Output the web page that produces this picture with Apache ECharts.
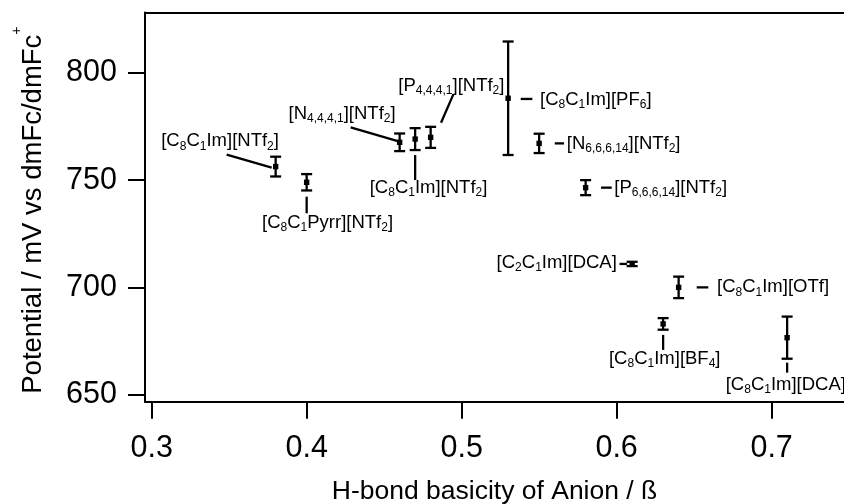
<!DOCTYPE html>
<html><head><meta charset="utf-8">
<script src="https://cdn.jsdelivr.net/npm/echarts@6/dist/echarts.min.js"></script>
<style>html,body{margin:0;padding:0;background:#fff}#c{width:844px;height:504px}</style>
</head><body><div id="c"></div>
<script>
// ---- data ----
const beta = [0.38, 0.40, 0.46, 0.47, 0.48, 0.53, 0.55, 0.58, 0.61, 0.64, 0.63, 0.71];
const potential = [756.3, 749.0, 767.6, 769.1, 769.9, 788.1, 767.1, 746.5, 711.0, 700.1, 683.1, 676.7];
const errorBar = [4.6, 3.8, 4.1, 5.1, 4.9, 26.4, 4.5, 3.5, 1.0, 5.0, 2.7, 9.8];
const names = [
  '[C_{8}C_{1}Im][NTf_{2}]',
  '[C_{8}C_{1}Pyrr][NTf_{2}]',
  '[N_{4,4,4,1}][NTf_{2}]',
  '[C_{8}C_{1}Im][NTf_{2}]',
  '[P_{4,4,4,1}][NTf_{2}]',
  '[C_{8}C_{1}Im][PF_{6}]',
  '[N_{6,6,6,14}][NTf_{2}]',
  '[P_{6,6,6,14}][NTf_{2}]',
  '[C_{2}C_{1}Im][DCA]',
  '[C_{8}C_{1}Im][OTf]',
  '[C_{8}C_{1}Im][BF_{4}]',
  '[C_{8}C_{1}Im][DCA]'
];
const xTicks = [0.3, 0.4, 0.5, 0.6, 0.7];
const yTicks = [650, 700, 750, 800];
const xTitle = 'H-bond basicity of Anion / ß';
const yTitle = 'Potential / mV vs dmFc/dmFc';

// ---- annotation layout: pixel offsets from each point ----
const annot = [
  {line: [-49, -12, -4, 1],   text: [-55.6, -25.4], align: 'center'},
  {line: [0, 14.4, 0, 31],    text: [20.9, 40.5],   align: 'center'},
  {line: [-49, -15, -1, -1],  text: [-57.6, -28.8], align: 'center'},
  {line: [0, 16, 0, 41],      text: [13.4, 48.8],   align: 'center'},
  {line: [22.7, -43, 10.4, -14.6], text: [20.7, -51.8], align: 'center'},
  {line: [12.6, 0.7, 24.2, 0.7], text: [31.9, 1.8],  align: 'left'},
  {line: [15.6, 0, 24.9, 0],  text: [27.6, 0.5],    align: 'left'},
  {line: [15.4, 0, 26.1, 0],  text: [28.7, 0],      align: 'left'},
  {line: [-12.6, 0, -5, 0],   text: [-15.3, -1],    align: 'right'},
  {line: [18.1, 0, 29.7, 0],  text: [38.4, 0],      align: 'left'},
  {line: [0, 11, 0, 26],      text: [1.6, 35.2],    align: 'center'},
  {line: [0, 25, 0, 35],      text: [-61.4, 47],    align: 'left'}
];

const FONT = '"Liberation Sans", Arial, Helvetica, sans-serif';
const INK = '#000';

function toRich(s) {
  const parts = s.split(/_\{([^}]*)\}/);
  let out = '';
  parts.forEach((p, k) => {
    if (!p) return;
    out += (k % 2 ? '{s|' : '{n|') + p + '}';
  });
  return out;
}
const annRich = {
  n: {fontSize: 18.5, lineHeight: 22, fontFamily: FONT, fill: INK},
  s: {fontSize: 12, lineHeight: 12, fontFamily: FONT, fill: INK, verticalAlign: 'bottom'}
};

const chart = echarts.init(document.getElementById('c'), null, {renderer: 'canvas'});
const xMin = 0.2957, xMax = 0.7467;
const yMin = 646.9, yMax = 828.0;

chart.setOption({
  animation: false,
  backgroundColor: '#fff',
  grid: {left: 145, top: 12.5, right: 0, bottom: 102.3, containLabel: false, outerBoundsMode: 'none'},
  xAxis: [{
    type: 'value', min: xMin, max: xMax, position: 'bottom',
    axisLine: {show: true, lineStyle: {color: INK, width: 2}},
    axisTick: {show: true, length: 17, customValues: xTicks, lineStyle: {color: INK, width: 2}},
    axisLabel: {customValues: xTicks, margin: 32, fontSize: 30.5, lineHeight: 30, color: INK, fontFamily: FONT},
    splitLine: {show: false},
    name: xTitle, nameLocation: 'middle', nameGap: 77,
    nameTextStyle: {fontSize: 26.5, lineHeight: 25, color: INK, fontFamily: FONT}
  }, {
    type: 'value', min: xMin, max: xMax, position: 'top',
    axisLine: {show: true, lineStyle: {color: INK, width: 2}},
    axisTick: {show: false}, axisLabel: {show: false}, splitLine: {show: false}
  }],
  yAxis: [{
    type: 'value', min: yMin, max: yMax,
    axisLine: {show: true, lineStyle: {color: INK, width: 2}},
    axisTick: {show: true, length: 17, customValues: yTicks, lineStyle: {color: INK, width: 2}},
    axisLabel: {customValues: yTicks, margin: 28, fontSize: 30.5, color: INK, fontFamily: FONT},
    splitLine: {show: false},
    name: '{m|' + yTitle + '}{p|+}', nameLocation: 'middle', nameGap: 89,
    nameTextStyle: {
      color: INK, fontFamily: FONT, padding: [0, 6, 0, 0],
      rich: {
        m: {fontSize: 27.5, lineHeight: 46, fontFamily: FONT, color: INK},
        p: {fontSize: 14, lineHeight: 14, fontFamily: FONT, color: INK, verticalAlign: 'top'}
      }
    }
  }],
  series: [{
    type: 'custom',
    clip: false,
    encode: {x: 0, y: 1},
    data: beta.map((b, i) => [b, potential[i], errorBar[i], i]),
    renderItem: function (params, api) {
      const i = api.value(3);
      const x = api.value(0), y = api.value(1), e = api.value(2);
      const p = api.coord([x, y]);
      const t = api.coord([x, y + e]);
      const b = api.coord([x, y - e]);
      const cap = 5.5;
      const a = annot[i];
      const ls = {stroke: INK, lineWidth: 2.3};
      return {
        type: 'group',
        children: [
          {type: 'line', shape: {x1: p[0], y1: t[1], x2: p[0], y2: b[1]}, style: ls},
          {type: 'line', shape: {x1: p[0] - cap, y1: t[1], x2: p[0] + cap, y2: t[1]}, style: ls},
          {type: 'line', shape: {x1: p[0] - cap, y1: b[1], x2: p[0] + cap, y2: b[1]}, style: ls},
          {type: 'rect', shape: {x: p[0] - 2.7, y: p[1] - 2.7, width: 5.4, height: 5.4}, style: {fill: INK}},
          {type: 'line', shape: {x1: p[0] + a.line[0], y1: p[1] + a.line[1], x2: p[0] + a.line[2], y2: p[1] + a.line[3]}, style: ls},
          {type: 'text', x: p[0] + a.text[0], y: p[1] + a.text[1],
            style: {text: toRich(names[i]), rich: annRich, align: a.align, verticalAlign: 'middle', fill: INK, fontFamily: FONT, fontSize: 18.5}}
        ]
      };
    }
  }]
});
</script>
</body></html>
